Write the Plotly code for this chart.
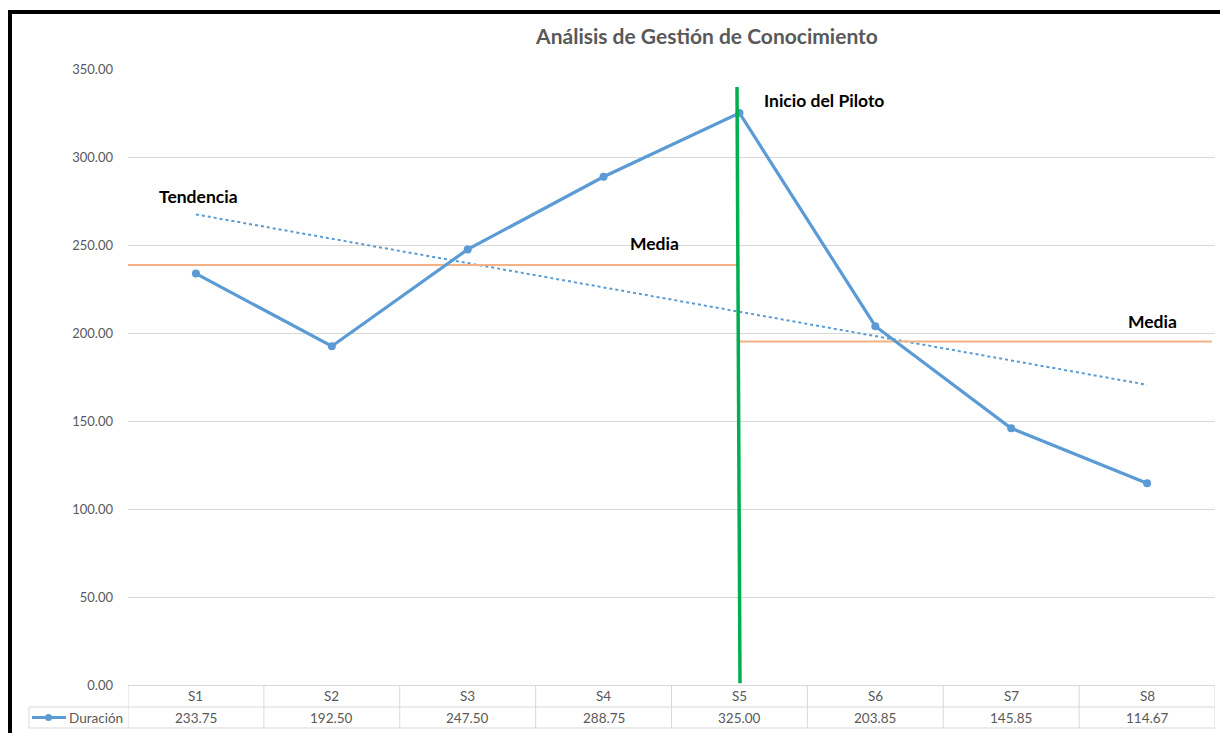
import numpy as np
import plotly.graph_objects as go

# Data
categories = ["S1", "S2", "S3", "S4", "S5", "S6", "S7", "S8"]
duracion = [233.75, 192.50, 247.50, 288.75, 325.00, 203.85, 145.85, 114.67]
media_antes = 238.6    # mean line before the pilot
media_despues = 195.2  # mean line after the pilot
y_ticks = [0, 50, 100, 150, 200, 250, 300, 350]

W, H = 1220, 733
ML, MR, MT, MB = 128, 5, 69, 48
PW, PH = W - ML - MR, H - MT - MB

xs = list(range(1, len(categories) + 1))
X0, X1 = 0.5, len(categories) + 0.5


def px_x(px):
    return (px - ML) / PW


def px_y(py):
    return (H - MB - py) / PH


def x_data_from_px(px):
    return X0 + (px - ML) / PW * (X1 - X0)


blue = "#5B9BD5"
orange = "#F4B183"
green = "#00B050"
grid = "#D9D9D9"
txt = "#595959"
font = "Lato"

# Linear trend
coef = np.polyfit(xs, duracion, 1)
trend = np.polyval(coef, xs)

fig = go.Figure()

fig.add_trace(go.Scatter(
    x=xs, y=trend, mode="lines",
    line=dict(color=blue, width=2, dash="dot"),
    hoverinfo="skip", showlegend=False))

fig.add_trace(go.Scatter(
    x=[X0, 5], y=[media_antes, media_antes], mode="lines",
    line=dict(color=orange, width=2), showlegend=False))
fig.add_trace(go.Scatter(
    x=[5, x_data_from_px(1212)], y=[media_despues, media_despues], mode="lines",
    line=dict(color=orange, width=2), showlegend=False))

fig.add_trace(go.Scatter(
    x=xs, y=duracion, mode="lines+markers", name="Duración",
    line=dict(color=blue, width=3.2),
    marker=dict(color=blue, size=8), showlegend=False))

shapes = []
# pilot start marker
shapes.append(dict(type="line", xref="x", yref="y",
                   x0=x_data_from_px(737), y0=(H - MB - 87) / PH * 350,
                   x1=x_data_from_px(740), y1=1,
                   line=dict(color=green, width=3.5), layer="above"))

# Data table below the plot area
r0, r1, r2 = px_y(685.5), px_y(707), px_y(728)
tline = dict(color=grid, width=1)
shapes.append(dict(type="line", xref="paper", yref="paper", x0=0, x1=1, y0=r0, y1=r0, line=tline))
shapes.append(dict(type="line", xref="paper", yref="paper", x0=px_x(29), x1=1, y0=r1, y1=r1, line=tline))
shapes.append(dict(type="line", xref="paper", yref="paper", x0=px_x(29), x1=1, y0=r2, y1=r2, line=tline))
shapes.append(dict(type="line", xref="paper", yref="paper", x0=px_x(29), x1=px_x(29), y0=r1, y1=r2, line=tline))
for k in range(len(categories) + 1):
    xb = X0 + k
    shapes.append(dict(type="line", xref="x", yref="paper", x0=xb, x1=xb, y0=r0, y1=r2, line=tline))

# legend key in table
ky = (r1 + r2) / 2
shapes.append(dict(type="line", xref="paper", yref="paper", x0=px_x(32), x1=px_x(66),
                   y0=ky, y1=ky, line=dict(color=blue, width=3)))
shapes.append(dict(type="circle", xref="paper", yref="paper",
                   x0=px_x(45), x1=px_x(52), y0=ky - 3.5 / PH, y1=ky + 3.5 / PH,
                   fillcolor=blue, line=dict(color=blue, width=0)))

# Outer frame
shapes.append(dict(type="line", xref="paper", yref="paper", x0=px_x(10), x1=px_x(10),
                   y0=px_y(10), y1=px_y(740), line=dict(color="black", width=4)))
shapes.append(dict(type="line", xref="paper", yref="paper", x0=px_x(8), x1=px_x(1225),
                   y0=px_y(12), y1=px_y(12), line=dict(color="black", width=4)))

tfont = dict(family=font, size=13.5, color=txt)
annotations = []
for xi, c, v in zip(xs, categories, duracion):
    annotations.append(dict(x=xi, y=(r0 + r1) / 2, xref="x", yref="paper", text=c,
                            xanchor="center", yanchor="middle",
                            showarrow=False, font=tfont))
    annotations.append(dict(x=xi, y=(r1 + r2) / 2, xref="x", yref="paper", text=f"{v:.2f}",
                            xanchor="center", yanchor="middle",
                            showarrow=False, font=tfont))
annotations.append(dict(x=px_x(67), y=(r1 + r2) / 2, xref="paper", yref="paper", text="Duración",
                        xanchor="left", yanchor="middle", showarrow=False, font=tfont))

lab_font = dict(family=font, size=17.5, color="black")
for text, px, py in [("Tendencia", 157, 197), ("Media", 628, 244),
                     ("Inicio del Piloto", 762, 100), ("Media", 1126, 321)]:
    annotations.append(dict(x=px_x(px), y=px_y(py), xref="paper", yref="paper",
                            text=f"<b>{text}</b>", xanchor="left", yanchor="middle",
                            showarrow=False, font=lab_font))

fig.update_layout(
    width=W, height=H,
    margin=dict(l=ML, r=MR, t=MT, b=MB),
    paper_bgcolor="white", plot_bgcolor="white",
    title=dict(text="<b>Análisis de Gestión de Conocimiento</b>",
               x=px_x(707), xref="paper", xanchor="center",
               y=1 - 37 / H, yanchor="middle",
               font=dict(family=font, size=21, color=txt)),
    xaxis=dict(range=[X0, X1], showticklabels=False, showgrid=False,
               zeroline=False, showline=False, fixedrange=True),
    yaxis=dict(range=[0, 350], tickvals=y_ticks, tickformat=".2f",
               showgrid=True, gridcolor=grid, gridwidth=1, zeroline=False,
               showline=False, ticklabelstandoff=14,
               tickfont=dict(family=font, size=13, color=txt)),
    shapes=shapes, annotations=annotations,
    showlegend=False,
)

fig.write_html("out.html")
